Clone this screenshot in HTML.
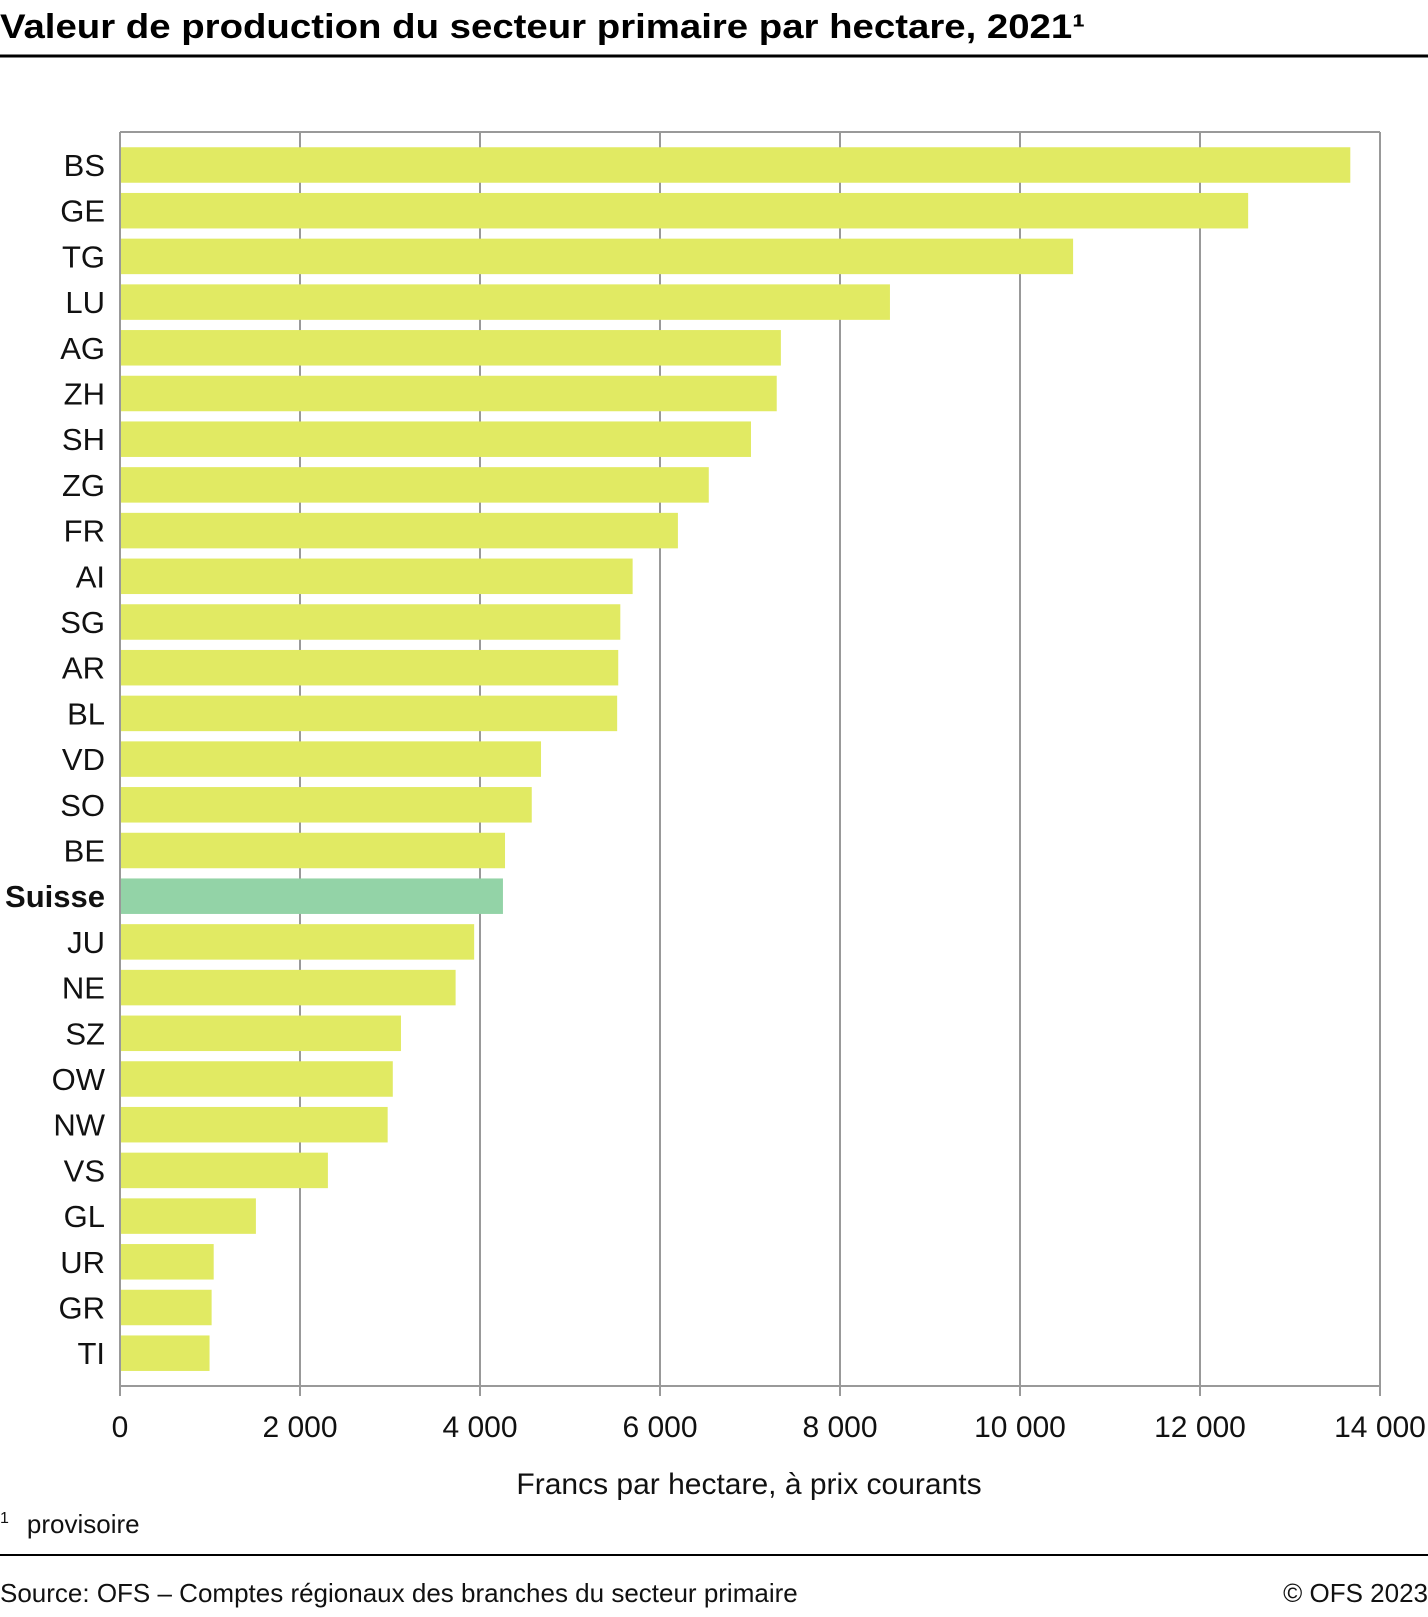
<!DOCTYPE html>
<html><head><meta charset="utf-8">
<style>
body{margin:0;background:#fff;width:1428px;height:1612px;overflow:hidden;font-family:"Liberation Sans",sans-serif;}
svg text{font-family:"Liberation Sans",sans-serif;}
</style></head>
<body>
<svg id="chart" width="1428" height="1612" xmlns="http://www.w3.org/2000/svg">
<text x="0" y="38" font-size="34" font-weight="bold" fill="#000" textLength="1085" lengthAdjust="spacingAndGlyphs">Valeur de production du secteur primaire par hectare, 2021¹</text>
<line x1="0" y1="56" x2="1428" y2="56" stroke="#000" stroke-width="3"/>
<g id="grid"></g>
<g id="bars"></g>
<g id="labels"></g>
<g id="ticks"></g>
<text x="749" y="1494" font-size="30" text-anchor="middle" fill="#111">Francs par hectare, à prix courants</text>
<text x="0" y="1533" font-size="26" fill="#111"><tspan font-size="16" dy="-10">1</tspan><tspan dx="18" dy="10">provisoire</tspan></text>
<line x1="0" y1="1555" x2="1428" y2="1555" stroke="#000" stroke-width="2"/>
<text x="0" y="1602" font-size="26" fill="#111">Source: OFS – Comptes régionaux des branches du secteur primaire</text>
<text x="1428" y="1602" font-size="26" text-anchor="end" fill="#111">© OFS 2023</text>
</svg>
<script>
const categories=["BS","GE","TG","LU","AG","ZH","SH","ZG","FR","AI","SG","AR","BL","VD","SO","BE","Suisse","JU","NE","SZ","OW","NW","VS","GL","UR","GR","TI"];
const values=[13670,12535,10590,8555,7343,7297,7011,6542,6199,5696,5559,5536,5524,4678,4575,4278,4255,3935,3729,3122,3031,2974,2310,1510,1041,1018,995];
const tickValues=[0,2000,4000,6000,8000,10000,12000,14000];
const tickLabels=["0","2 000","4 000","6 000","8 000","10 000","12 000","14 000"];
{
const NS="http://www.w3.org/2000/svg";
const x0=120,x1=1380,xmax=14000,plotTop=132,plotBottom=1386,firstC=165,pitch=45.7,bh=35.5;
const xs=v=>x0+(v/xmax)*(x1-x0);
const yc=i=>firstC+i*pitch;
function mk(tag,attrs,parent){const e=document.createElementNS(NS,tag);for(const k in attrs)e.setAttribute(k,attrs[k]);document.getElementById(parent).appendChild(e);return e;}
tickValues.forEach((t,i)=>{
  const g=mk('line',{x1:xs(t),x2:xs(t),y1:plotTop,y2:plotBottom+10,stroke:'#999','stroke-width':2},'grid');
  
  
  const tl=mk('text',{x:xs(t),y:1437,'font-size':30,'text-anchor':'middle',fill:'#111'},'ticks');
  tl.textContent=tickLabels[i];
  
  
});
const top1=mk('line',{x1:x0,x2:x1,y1:plotTop,y2:plotTop,stroke:'#999','stroke-width':2},'grid');


const bot=mk('line',{x1:x0,x2:x1,y1:plotBottom,y2:plotBottom,stroke:'#999','stroke-width':2},'grid');


categories.forEach((c,i)=>{
  const r=mk('rect',{x:x0+1,y:yc(i)-bh/2,width:xs(values[i])-x0-1,height:bh,fill:c==="Suisse"?'#93d3a7':'#e1ea63'},'bars');
  
  
  const t=mk('text',{x:105,y:yc(i)+11,'font-size':31,'text-anchor':'end',fill:'#111','font-weight':c==="Suisse"?'bold':'normal'},'labels');
  t.textContent=c;
  
  
});
}
</script>
</body></html>
